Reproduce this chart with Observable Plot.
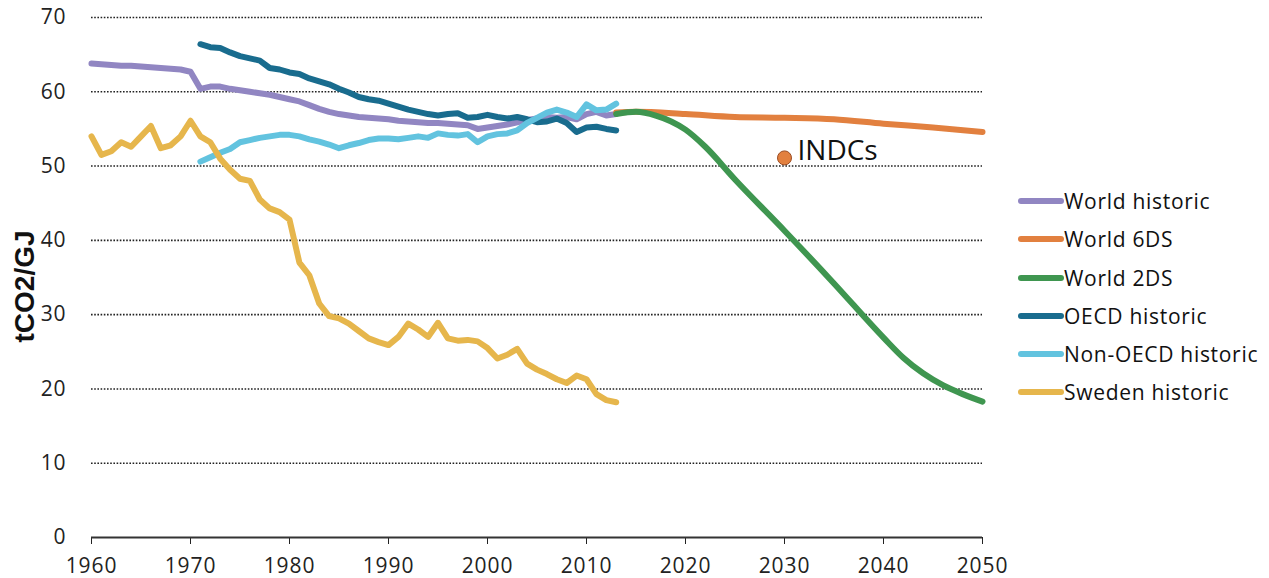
<!DOCTYPE html>
<html>
<head>
<meta charset="utf-8">
<script src="https://cdn.jsdelivr.net/npm/d3@7"></script>
<script src="https://cdn.jsdelivr.net/npm/@observablehq/plot@0.6"></script>
<style>
  html, body { margin: 0; padding: 0; background: #fff; }
  #wrap { position: relative; width: 1269px; height: 578px; font-family: "Open Sans", sans-serif; }
  #chart { position: absolute; left: 0; top: 0; }
  #legend { position: absolute; left: 0; top: 0; }
  .item { position: absolute; left: 1018px; display: flex; align-items: center; height: 30px; }
  .sw { width: 46px; height: 6.5px; border-radius: 3.5px; }
  .lab { font-size: 21px; letter-spacing: 0.7px; color: #111; margin-left: 0px; white-space: nowrap; }
  #chart svg g[aria-label="x-axis tick label"] text,
  #chart svg g[aria-label="y-axis tick label"] text { letter-spacing: 0.9px; }
</style>
</head>
<body>
<div id="wrap">
  <div id="chart"></div>
  <div id="legend"></div>
</div>
<script>
// ---- data ----
const seriesNames = ["World historic", "World 6DS", "World 2DS", "OECD historic", "Non-OECD historic", "Sweden historic"];
const seriesColors = ["#9186c2", "#e2803f", "#3f9650", "#196c8e", "#62c3df", "#e6b64c"];

const worldHistoricYears = [1960,1961,1962,1963,1964,1965,1966,1967,1968,1969,1970,1971,1972,1973,1974,1975,1976,1977,1978,1979,1980,1981,1982,1983,1984,1985,1986,1987,1988,1989,1990,1991,1992,1993,1994,1995,1996,1997,1998,1999,2000,2001,2002,2003,2004,2005,2006,2007,2008,2009,2010,2011,2012,2013];
const worldHistoric = [63.8,63.7,63.6,63.5,63.5,63.4,63.3,63.2,63.1,63.0,62.7,60.4,60.7,60.7,60.4,60.2,60.0,59.8,59.6,59.3,59.0,58.7,58.2,57.7,57.3,57.0,56.8,56.6,56.5,56.4,56.3,56.1,56.0,55.9,55.8,55.8,55.7,55.6,55.5,55.0,55.2,55.4,55.6,55.9,56.2,56.4,56.6,56.5,56.6,56.3,57.0,57.3,56.8,57.0];

const oecdYears = [1971,1972,1973,1974,1975,1976,1977,1978,1979,1980,1981,1982,1983,1984,1985,1986,1987,1988,1989,1990,1991,1992,1993,1994,1995,1996,1997,1998,1999,2000,2001,2002,2003,2004,2005,2006,2007,2008,2009,2010,2011,2012,2013];
const oecdHistoric = [66.4,66.0,65.9,65.3,64.8,64.5,64.2,63.2,63.0,62.6,62.4,61.8,61.4,61.0,60.4,59.9,59.3,59.0,58.8,58.4,58.0,57.6,57.3,57.0,56.8,57.0,57.1,56.5,56.6,56.9,56.6,56.4,56.6,56.3,55.9,56.0,56.4,55.8,54.6,55.2,55.3,55.0,54.8];

const nonOecdYears = oecdYears;
const nonOecdHistoric = [50.6,51.2,51.8,52.3,53.2,53.5,53.8,54.0,54.2,54.2,54.0,53.6,53.3,52.9,52.4,52.8,53.1,53.5,53.7,53.7,53.6,53.8,54.0,53.8,54.4,54.2,54.1,54.3,53.2,54.0,54.3,54.4,54.8,55.8,56.5,57.2,57.6,57.2,56.6,58.3,57.5,57.6,58.4];

const swedenYears = worldHistoricYears;
const swedenHistoric = [54.0,51.5,52.0,53.2,52.6,54.0,55.4,52.4,52.8,54.0,56.1,54.0,53.2,51.0,49.5,48.3,48.0,45.5,44.3,43.8,42.8,37.0,35.3,31.5,29.8,29.5,28.8,27.8,26.8,26.3,25.9,27.0,28.8,28.0,27.0,28.9,26.8,26.5,26.6,26.4,25.5,24.1,24.6,25.4,23.4,22.6,22.0,21.3,20.8,21.8,21.3,19.3,18.5,18.2];

const world6dsYears = [2013,2015,2020,2025,2030,2035,2040,2045,2050];
const world6ds = [57.2,57.3,57.0,56.6,56.5,56.3,55.7,55.2,54.6];

const world2dsYears = [2013,2015,2017,2020,2022,2025,2030,2035,2040,2042,2044,2046,2048,2050];
const world2ds = [57.0,57.3,56.8,54.9,52.6,48.2,41.3,34.2,26.9,24.2,22.1,20.5,19.3,18.3];

const indcYear = [2030];
const indcValue = [51.1];
const indcLabel = ["INDCs"];

const yTicks = [0,10,20,30,40,50,60,70];
const xTicks = [1960,1970,1980,1990,2000,2010,2020,2030,2040,2050];
const yTitle = ["tCO2/GJ"];

// ---- build rows ----
const rows = (years, vals, name) => years.map((yr, i) => ({year: yr, value: vals[i], series: name}));
const dWorld = rows(worldHistoricYears, worldHistoric, seriesNames[0]);
const d6ds = rows(world6dsYears, world6ds, seriesNames[1]);
const d2ds = rows(world2dsYears, world2ds, seriesNames[2]);
const dOecd = rows(oecdYears, oecdHistoric, seriesNames[3]);
const dNon = rows(nonOecdYears, nonOecdHistoric, seriesNames[4]);
const dSwe = rows(swedenYears, swedenHistoric, seriesNames[5]);
const dIndc = indcYear.map((yr, i) => ({year: yr, value: indcValue[i], label: indcLabel[i]}));

const lineOpts = (color, curve) => ({x: "year", y: "value", stroke: color, strokeWidth: 6, strokeLinejoin: "round", strokeLinecap: "round", curve: curve || "linear"});

const chart = Plot.plot({
  width: 1010,
  height: 578,
  marginLeft: 91,
  marginRight: 28,
  marginTop: 17,
  marginBottom: 41,
  style: {fontFamily: "Open Sans, sans-serif", fontSize: "21px", color: "#222", background: "transparent"},
  x: {domain: [1960, 2050], ticks: xTicks, tickFormat: d => String(d), label: null, tickSize: 7, tickPadding: 14},
  y: {domain: [0, 70], ticks: yTicks, label: null, tickSize: 0, tickPadding: 25},
  marks: [
    Plot.ruleY(yTicks.filter(t => t > 0), {stroke: "#222", strokeWidth: 1.6, strokeDasharray: "1.6,1.6"}),
    Plot.ruleY([0], {stroke: "#333", strokeWidth: 2}),
    Plot.line(dWorld, lineOpts(seriesColors[0])),
    Plot.line(dOecd, lineOpts(seriesColors[3])),
    Plot.line(dNon, lineOpts(seriesColors[4])),
    Plot.line(dSwe, lineOpts(seriesColors[5])),
    Plot.line(d6ds, lineOpts(seriesColors[1], "monotone-x")),
    Plot.line(d2ds, lineOpts(seriesColors[2], "monotone-x")),
    Plot.dot(dIndc, {x: "year", y: "value", r: 7, fill: seriesColors[1], stroke: "#9a4a20", strokeWidth: 1}),
    Plot.text(dIndc, {x: "year", y: "value", text: "label", dx: 13, dy: -7, textAnchor: "start", fontSize: 28, fill: "#111"}),
    Plot.text(yTitle, {frameAnchor: "left", textAnchor: "middle", dx: -66, dy: 9, rotate: -90, text: d => d, fontSize: 28, fontWeight: "bold", fill: "#111", fontFamily: "Liberation Sans, Arial, sans-serif"})
  ]
});
document.getElementById("chart").appendChild(chart);

// ---- legend ----
const legendY = [201, 239, 278, 316, 354, 392];
const leg = document.getElementById("legend");
seriesNames.forEach((name, i) => {
  const item = document.createElement("div");
  item.className = "item";
  item.style.top = (legendY[i] - 15) + "px";
  const sw = document.createElement("div");
  sw.className = "sw";
  sw.style.background = seriesColors[i];
  const lab = document.createElement("span");
  lab.className = "lab";
  lab.textContent = name;
  item.appendChild(sw);
  item.appendChild(lab);
  leg.appendChild(item);
});
</script>
</body>
</html>
